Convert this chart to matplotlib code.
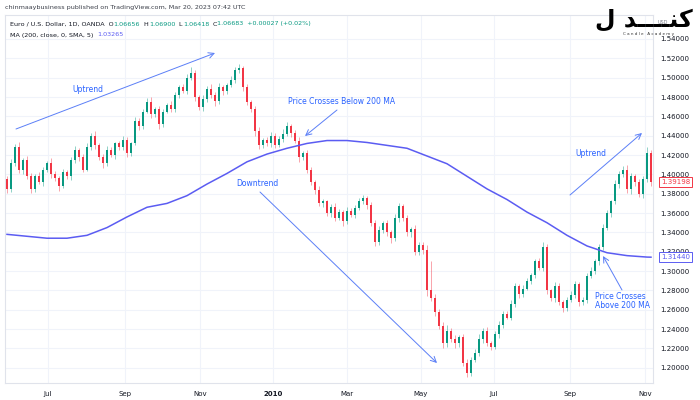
import matplotlib
matplotlib.use("Agg")
import matplotlib.pyplot as plt
import numpy as np

# EUR/USD, roughly 2 trading days per candle
closes = [1.385, 1.412, 1.428, 1.405, 1.415, 1.398, 1.385, 1.398, 1.392, 1.405,
          1.412, 1.400, 1.396, 1.388, 1.402, 1.398, 1.415, 1.425, 1.418, 1.405,
          1.428, 1.440, 1.430, 1.418, 1.412, 1.425, 1.420, 1.432, 1.428, 1.436,
          1.422, 1.432, 1.455, 1.450, 1.465, 1.475, 1.462, 1.468, 1.452, 1.465,
          1.472, 1.468, 1.482, 1.490, 1.486, 1.500, 1.505, 1.480, 1.470, 1.478,
          1.488, 1.482, 1.476, 1.490, 1.486, 1.492, 1.498, 1.508, 1.510, 1.490,
          1.475, 1.468, 1.445, 1.430, 1.436, 1.432, 1.440, 1.430, 1.437, 1.442,
          1.450, 1.443, 1.435, 1.418, 1.422, 1.405, 1.392, 1.384, 1.370, 1.372,
          1.360, 1.366, 1.355, 1.361, 1.352, 1.362, 1.358, 1.365, 1.372, 1.376,
          1.368, 1.350, 1.330, 1.342, 1.350, 1.340, 1.334, 1.355, 1.367, 1.355,
          1.340, 1.344, 1.320, 1.327, 1.322, 1.280, 1.272, 1.258, 1.243, 1.226,
          1.238, 1.230, 1.226, 1.232, 1.205, 1.195, 1.208, 1.215, 1.230, 1.238,
          1.226, 1.222, 1.235, 1.244, 1.256, 1.252, 1.266, 1.285, 1.276, 1.282,
          1.290, 1.296, 1.310, 1.303, 1.325, 1.280, 1.272, 1.285, 1.268, 1.262,
          1.270, 1.275, 1.287, 1.268, 1.270, 1.295, 1.300, 1.310, 1.325, 1.345,
          1.360, 1.372, 1.390, 1.400, 1.405, 1.385, 1.398, 1.392, 1.380, 1.395,
          1.422, 1.39198]
first_open = 1.395
# wick lengths above / below the body, in units of 0.001
wick_up = [3, 4, 3, 5, 2, 4, 3, 2, 4, 3,
           2, 5, 3, 2, 4, 3, 3, 4, 2, 3,
           4, 3, 5, 2, 3, 4, 3, 2, 3, 4,
           3, 2, 4, 3, 3, 4, 5, 2, 3, 3,
           2, 4, 3, 2, 3, 4, 6, 3, 2, 4,
           3, 5, 3, 4, 2, 3, 4, 3, 4, 2,
           3, 2, 3, 4, 2, 3, 4, 3, 3, 5,
           4, 2, 3, 4, 2, 3, 3, 2, 4, 3,
           2, 3, 4, 3, 2, 4, 3, 3, 4, 3,
           2, 3, 3, 5, 2, 3, 2, 4, 3, 2,
           3, 2, 4, 3, 3, 5, 30, 4, 3, 4,
           6, 3, 4, 2, 3, 4, 3, 4, 5, 3,
           4, 2, 3, 4, 3, 3, 4, 3, 2, 4,
           3, 2, 3, 4, 5, 3, 2, 4, 3, 2,
           3, 4, 3, 2, 3, 3, 4, 2, 3, 4,
           3, 2, 4, 3, 4, 5, 3, 2, 3, 3,
           6, 3]
wick_dn = [4, 3, 3, 4, 5, 3, 4, 3, 2, 4,
           3, 4, 3, 5, 2, 3, 4, 3, 4, 3,
           2, 3, 4, 3, 5, 3, 2, 4, 3, 3,
           4, 3, 2, 4, 3, 2, 4, 3, 5, 3,
           2, 3, 4, 3, 2, 3, 2, 4, 3, 4,
           3, 3, 5, 3, 4, 3, 2, 3, 3, 4,
           3, 4, 5, 4, 3, 3, 4, 3, 2, 3,
           2, 4, 3, 5, 3, 4, 3, 4, 3, 4,
           3, 4, 3, 2, 5, 3, 2, 3, 2, 3,
           4, 3, 4, 3, 3, 4, 5, 3, 4, 3,
           4, 5, 3, 3, 4, 6, 3, 4, 3, 5,
           4, 3, 5, 4, 3, 4, 3, 2, 3, 4,
           3, 4, 3, 4, 3, 2, 3, 3, 4, 3,
           2, 3, 3, 2, 3, 4, 3, 4, 3, 4,
           3, 2, 3, 4, 3, 3, 2, 3, 4, 3,
           3, 4, 3, 4, 3, 4, 5, 4, 3, 4,
           3, 4]

# 200-day SMA, sampled every 5 candles
ma_idx = [0, 5, 10, 15, 20, 25, 30, 35, 40, 45, 50, 55, 60, 65, 70, 75, 80,
          85, 90, 95, 100, 105, 110, 115, 120, 125, 130, 135, 140, 145, 150, 155, 160, 161]
ma_val = [1.338, 1.336, 1.334, 1.334, 1.337, 1.345, 1.356, 1.366, 1.370, 1.378,
          1.390, 1.401, 1.413, 1.421, 1.427, 1.432, 1.435, 1.435, 1.433, 1.430,
          1.427, 1.419, 1.411, 1.398, 1.385, 1.374, 1.361, 1.350, 1.337, 1.326,
          1.319, 1.316, 1.3145, 1.3144]

month_pos = [10.25, 29.5, 48.25, 66.5, 85, 103.5, 121.75, 140.75, 159.5]
month_lbl = ["Jul", "Sep", "Nov", "2010", "Mar", "May", "Jul", "Sep", "Nov"]
price_ticks = np.round(np.arange(1.20, 1.5401, 0.02), 2)

UP = "#089981"
DN = "#f23645"
BLUE = "#2962ff"
MA_C = "#5b5cf2"
TXT = "#131722"

plt.rcParams['font.family'] = ['DejaVu Sans']

fig = plt.figure(figsize=(7, 4), dpi=100)
ax = fig.add_axes([5/700, 17/400, 648/700, 368/400])

c = np.array(closes)
o = np.concatenate([[first_open], c[:-1]])
hi = np.maximum(o, c) + np.array(wick_up) * 0.001
lo = np.minimum(o, c) - np.array(wick_dn) * 0.001
x = np.arange(len(c))
col = np.where(c >= o, UP, DN)

ax.vlines(x, lo, hi, colors=col, linewidth=0.7, alpha=0.45, zorder=2)
body = np.maximum(np.abs(c - o), 0.0008)
ax.bar(x, body, bottom=np.minimum(o, c), width=0.6, color=col, linewidth=0, zorder=3)

ax.plot(ma_idx, ma_val, color=MA_C, linewidth=1.1, zorder=4)

ax.set_xlim(-0.5, len(c) - 0.5)
ax.set_ylim(1.1843, 1.5648)
ax.set_xticks(month_pos)
ax.set_xticklabels(month_lbl, fontsize=5, color=TXT)
for t in ax.get_xticklabels():
    if t.get_text() == "2010":
        t.set_fontweight("bold")
ax.set_yticks(price_ticks)
ax.set_yticklabels(["%.5f" % p for p in price_ticks], fontsize=5, color=TXT)
ax.yaxis.tick_right()
ax.tick_params(length=0, pad=5)
ax.tick_params(axis='x', pad=6)
ax.grid(True, color="#f0f3fa", linewidth=0.8, zorder=0)
for s in ax.spines.values():
    s.set_color("#e0e3eb")
    s.set_linewidth(0.8)


def px(x_px, y_px):
    # picture pixel -> axes fraction, for the drawn annotations
    return ((x_px - 5) / 648, (385 - y_px) / 368)


arrow = dict(arrowstyle="->", color="#5b7ff7", lw=0.7, shrinkA=0, shrinkB=0)
ax.annotate("", xy=px(215, 55), xytext=px(16, 131), xycoords='axes fraction', arrowprops=arrow)
ax.annotate("", xy=px(305, 138), xytext=px(337, 112), xycoords='axes fraction', arrowprops=arrow)
ax.annotate("", xy=px(437, 365), xytext=px(260, 194), xycoords='axes fraction', arrowprops=arrow)
ax.annotate("", xy=px(642, 135), xytext=px(570, 197), xycoords='axes fraction', arrowprops=arrow)
ax.annotate("", xy=px(603, 258), xytext=px(622, 292), xycoords='axes fraction', arrowprops=arrow)

lab = dict(transform=ax.transAxes, color=BLUE, fontsize=5.5, va='center')
ax.text(*px(88, 92), "Uptrend", ha='center', **lab)
ax.text(*px(342, 103), "Price Crosses Below 200 MA", ha='center', **lab)
ax.text(*px(257, 186), "Downtrend", ha='center', **lab)
ax.text(*px(591, 155), "Uptrend", ha='center', **lab)
ax.text(*px(595, 303), "Price Crosses\nAbove 200 MA", ha='left', linespacing=1.0, **lab)

# last price / MA value tags on the price scale
ax.text(1.012, closes[-1], "%.5f" % closes[-1], transform=ax.get_yaxis_transform(),
        fontsize=5, color=DN, va='center', ha='left',
        bbox=dict(boxstyle="square,pad=0.25", fc="white", ec=DN, lw=0.7))
ax.text(1.012, ma_val[-1], "%.5f" % ma_val[-1], transform=ax.get_yaxis_transform(),
        fontsize=5, color=MA_C, va='center', ha='left',
        bbox=dict(boxstyle="square,pad=0.25", fc="white", ec=MA_C, lw=0.7))


# header, pieces chained one after another
def chain_text(pieces, x0, y0, size=4.6):
    prev = fig.text(x0 / 700, 1 - y0 / 400, pieces[0][0], fontsize=size, color=pieces[0][1], va='center')
    for s, colr in pieces[1:]:
        prev = ax.annotate(s, xy=(1, 0.5), xycoords=prev, xytext=(0, 0), textcoords='offset points',
                           fontsize=size, color=colr, va='center', ha='left', annotation_clip=False)


fig.text(5/700, 1 - 7/400, "chinmaaybusiness published on TradingView.com, Mar 20, 2023 07:42 UTC",
         fontsize=4.6, color="#3a3e48", va='center')
chain_text([("Euro / U.S. Dollar, 1D, OANDA  O", TXT), ("1.06656", UP), ("  H", TXT), ("1.06900", UP),
            ("  L", TXT), ("1.06418", UP), ("  C", TXT), ("1.06683  +0.00027 (+0.02%)", UP)], 10, 24)
chain_text([("MA (200, close, 0, SMA, 5)  ", TXT), ("1.03265", MA_C)], 10, 35)

# logo
fig.text(663/700, 1 - 22/400, "USD", fontsize=3.5, color="#787b86", ha='center', va='center')
fig.text(693/700, 1 - 20/400, "\ufedd \ufeaa\u0640\u0640\u0640\u0640\ufee8\ufb90", fontsize=17,
         fontweight='bold', color="black", ha='right', va='center', family=['DejaVu Sans'])
fig.text(649/700, 1 - 34/400, "C a n d l e   A c a d e m y", fontsize=3, color="#333333",
         ha='center', va='center')

fig.savefig("out.png", dpi=100)
